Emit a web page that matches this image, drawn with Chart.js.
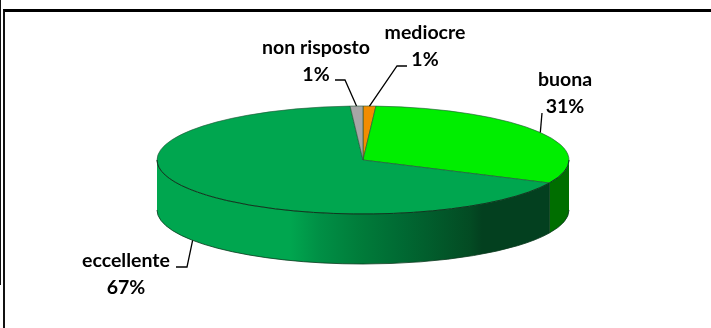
<!DOCTYPE html>
<html>
<head>
<meta charset="utf-8">
<script src="https://cdn.jsdelivr.net/npm/chart.js@4"></script>
<style>
    html, body { margin: 0; padding: 0; background: #fff; overflow: hidden; }
    #wrap { position: relative; width: 711px; height: 328px; }
    #frame { position: absolute; left: 3px; top: 9px; right: 0; bottom: 0; border-left: 2px solid #111; border-top: 3px solid #000; }
    #edge { position: absolute; left: 0; top: 0; width: 1px; height: 285px; background: #111; }
    canvas { position: absolute; left: 0; top: 0; }
</style>
</head>
<body>
<div id="wrap">
    <div id="frame"></div>
    <div id="edge"></div>
    <canvas id="pieChart" width="711" height="328"></canvas>
</div>
<script>
const categories = ["mediocre", "buona", "eccellente", "non risposto"];
const percentages = [1, 31, 67, 1];

const topColors = ["#F28C00", "#00EE00", "#00A64F", "#A6A6A6"];
const wallColors = ["#B06600", "#006E00", "#00A64F", "#7A7A7A"];

// tilt of the pie and height of its side wall
const radius = 206;
const tilt = 54 / 206;
const depth = 50;

// label centre, and the elbow of its leader line
const labelLayout = [
    { x: 425, y: 33, elbow: [[407, 66], [397, 66]] },
    { x: 565, y: 80, elbow: [[542, 113]] },
    { x: 126, y: 261, elbow: [[176, 267], [187, 267]] },
    { x: 316, y: 48, elbow: [[335, 80], [345, 80]] }
];

function wallGradient(ctx, cx) {
    const left = cx - radius;
    const width = radius * 2;
    const g = ctx.createLinearGradient(left, 0, left + width, 0);
    g.addColorStop(0, "#00A64F");
    g.addColorStop((290 - left) / width, "#00A64F");
    g.addColorStop((320 - left) / width, "#008F45");
    g.addColorStop((360 - left) / width, "#007C3A");
    g.addColorStop((400 - left) / width, "#006A33");
    g.addColorStop((470 - left) / width, "#034B23");
    g.addColorStop((482 - left) / width, "#03401F");
    g.addColorStop(1, "#03401F");
    return g;
}

const pie3d = {
    id: "pie3d",
    // side wall goes under the top face
    beforeDatasetsDraw(chart) {
        const ctx = chart.ctx;
        chart.getDatasetMeta(0).data.forEach((arc, i) => {
            const a0 = Math.max(arc.startAngle, 0);
            const a1 = Math.min(arc.endAngle, Math.PI);
            if (a1 <= a0) return;
            const ry = arc.outerRadius * tilt;
            ctx.save();
            ctx.beginPath();
            ctx.ellipse(arc.x, arc.y, arc.outerRadius, ry, 0, a0, a1);
            ctx.ellipse(arc.x, arc.y + depth, arc.outerRadius, ry, 0, a1, a0, true);
            ctx.closePath();
            ctx.fillStyle = categories[i] === "eccellente" ? wallGradient(ctx, arc.x) : wallColors[i];
            ctx.fill();

            // bottom edge, plus the seam where a slice starts inside the front
            ctx.beginPath();
            ctx.ellipse(arc.x, arc.y + depth, arc.outerRadius, ry, 0, a1, a0, true);
            if (a0 > 0) ctx.lineTo(arc.x + Math.cos(a0) * arc.outerRadius, arc.y + Math.sin(a0) * ry);
            ctx.lineWidth = 0.8;
            ctx.strokeStyle = "#0B3A1E";
            ctx.stroke();
            ctx.restore();
        });
    },
    // squash the round pie into an ellipse
    beforeDatasetDraw(chart, args) {
        const arc = args.meta.data[0];
        const ctx = chart.ctx;
        ctx.save();
        ctx.translate(arc.x, arc.y);
        ctx.scale(1, tilt);
        ctx.translate(-arc.x, -arc.y);
    },
    afterDatasetDraw(chart) {
        chart.ctx.restore();
    },
    afterDatasetsDraw(chart) {
        const ctx = chart.ctx;
        chart.getDatasetMeta(0).data.forEach((arc, i) => {
            const mid = (arc.startAngle + arc.endAngle) / 2;
            const layout = labelLayout[i];
            const front = Math.sin(mid) > 0;

            // dark rim along the front of the top face
            ctx.save();
            const a0 = Math.max(arc.startAngle, 0);
            const a1 = Math.min(arc.endAngle, Math.PI);
            if (a1 > a0) {
                ctx.beginPath();
                ctx.ellipse(arc.x, arc.y, arc.outerRadius, arc.outerRadius * tilt, 0, a0, a1);
                ctx.lineWidth = 1;
                ctx.strokeStyle = "#0B3A1E";
                ctx.stroke();
            }

            // leader line from the slice to its label
            const endX = arc.x + Math.cos(mid) * arc.outerRadius;
            const endY = arc.y + Math.sin(mid) * arc.outerRadius * tilt + (front ? depth : 0);
            ctx.beginPath();
            layout.elbow.forEach((p, k) => k === 0 ? ctx.moveTo(p[0], p[1]) : ctx.lineTo(p[0], p[1]));
            ctx.lineTo(endX, endY);
            ctx.lineWidth = 1.3;
            ctx.strokeStyle = "#000";
            ctx.stroke();

            ctx.fillStyle = "#000";
            ctx.font = "bold 19.5px Lato";
            ctx.textAlign = "center";
            ctx.textBaseline = "middle";
            ctx.fillText(categories[i], layout.x, layout.y);
            ctx.fillText(percentages[i] + "%", layout.x, layout.y + 27);
            ctx.restore();
        });
    }
};

new Chart(document.getElementById("pieChart").getContext("2d"), {
    type: "pie",
    data: {
        labels: categories,
        datasets: [{
            data: percentages,
            backgroundColor: topColors,
            borderColor: "#24583A",
            borderWidth: 1,
            radius: radius,
            clip: false
        }]
    },
    options: {
        responsive: false,
        animation: false,
        layout: { padding: { left: 15, right: 0, top: 0, bottom: 8 } },
        plugins: { legend: { display: false }, tooltip: { enabled: false } }
    },
    plugins: [pie3d]
});
</script>
</body>
</html>
